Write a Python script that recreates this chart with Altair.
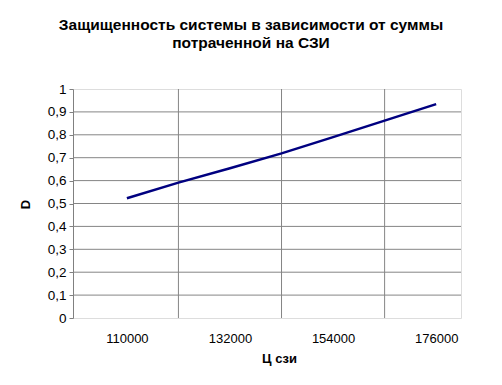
import altair as alt
import pandas as pd

# data
cost = [110000, 121000, 132000, 143000, 154000, 165000, 176000]
protection = [0.523, 0.591, 0.654, 0.719, 0.79, 0.862, 0.934]
x_labels = [110000, 132000, 154000, 176000]
x_grid = [121000, 143000, 165000]
y_ticks = [0, 0.1, 0.2, 0.3, 0.4, 0.5, 0.6, 0.7, 0.8, 0.9, 1.0]
y_grid = [0.1, 0.2, 0.3, 0.4, 0.5, 0.6, 0.7, 0.8, 0.9]

df = pd.DataFrame({"c": cost, "d": protection})
vg = pd.DataFrame({"g": x_grid})
hg = pd.DataFrame({"g": y_grid})

FONT = "Liberation Sans"
xscale = alt.Scale(domain=[98500, 181300], nice=False, zero=False)
yscale = alt.Scale(domain=[0, 1], nice=False)

xaxis = alt.Axis(
    values=x_labels,
    format="d",
    grid=False,
    ticks=False,
    domain=False,
    labelPadding=14,
    labelFontSize=13,
    labelFont=FONT,
    labelColor="black",
    title="Ц сзи",
    titleFont=FONT,
    titleFontSize=13,
    titleFontWeight="bold",
    titleColor="black",
    titleX=206,
    titleY=44,
    titleBaseline="alphabetic",
)
yaxis = alt.Axis(
    values=y_ticks,
    labelExpr="replace(format(datum.value, '.1~f'), '.', ',')",
    grid=False,
    ticks=True,
    tickSize=4,
    tickColor="#808080",
    domainColor="#808080",
    labelPadding=3,
    labelFontSize=13.5,
    labelFont=FONT,
    labelColor="black",
    title="D",
    titleFont=FONT,
    titleFontSize=13,
    titleFontWeight="bold",
    titleColor="black",
    titleX=-48,
    titleY=115,
    titleAlign="center",
    titleBaseline="middle",
)

hgrid = alt.Chart(hg).mark_rule(color="#858585", strokeWidth=1).encode(
    y=alt.Y("g:Q", scale=yscale, axis=yaxis)
)
vgrid = alt.Chart(vg).mark_rule(color="#858585", strokeWidth=1).encode(
    x=alt.X("g:Q", scale=xscale, axis=xaxis)
)

line = alt.Chart(df).mark_line(color="#000080", strokeWidth=2.5).encode(
    x=alt.X("c:Q", scale=xscale, axis=xaxis),
    y=alt.Y("d:Q", scale=yscale, axis=yaxis),
)

chart = (
    alt.layer(hgrid, vgrid, line)
    .properties(
        width=388,
        height=229,
        padding={"left": 65, "top": 81, "right": 33, "bottom": 58},
        autosize=alt.AutoSizeParams(type="none"),
        title=alt.TitleParams(
            text=["Защищенность системы в зависимости от суммы", "потраченной на СЗИ"],
            font=FONT,
            fontSize=15.5,
            fontWeight="bold",
            color="black",
            anchor="middle",
            frame="group",
            dx=-16,
            offset=31,
            lineHeight=18,
        ),
    )
    .configure_view(stroke=None)
    .configure(background="white")
)

chart.save("out.html", embed_options={"renderer": "svg", "actions": False})
